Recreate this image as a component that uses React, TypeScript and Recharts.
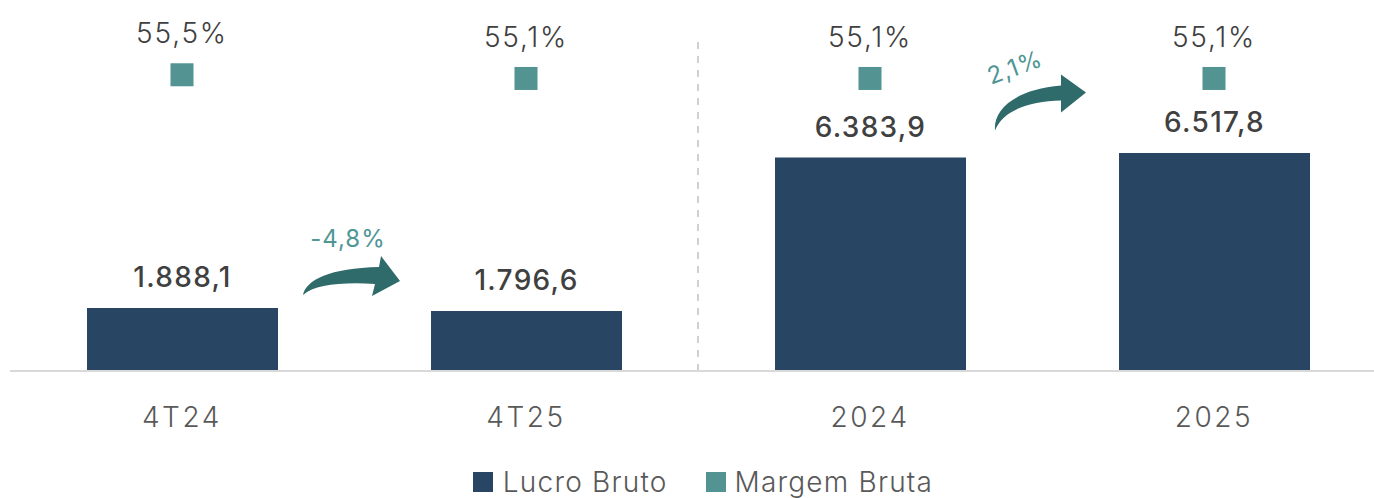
import React from 'react';
import {
  ComposedChart,
  Bar,
  Scatter,
  XAxis,
  YAxis,
  Legend,
  ReferenceLine,
  ReferenceDot,
  LabelList,
} from 'recharts';

const categories = ['4T24', '4T25', '2024', '2025'];
const lucroBruto = [1888.1, 1796.6, 6383.9, 6517.8];
const margemBruta = [55.5, 55.1, 55.1, 55.1];
const lucroLabels = ['1.888,1', '1.796,6', '6.383,9', '6.517,8'];
const margemLabels = ['55,5%', '55,1%', '55,1%', '55,1%'];
const variacoes = ['-4,8%', '2,1%'];

const data = categories.map((c, i) => ({
  categoria: c,
  lucro: lucroBruto[i],
  margem: margemBruta[i],
  lucroLabel: lucroLabels[i],
  margemLabel: margemLabels[i],
}));

// position of the boundary between category i and i+1 on a 0..(n-1) linear helper axis
const N = categories.length;
const boundary = (i: number) => ((i + 1) * (N - 1)) / N;

const FONT = 'Inter, "Open Sans", sans-serif';
const BAR_COLOR = '#284563';
const MARK_COLOR = '#539493';
const ARROW_COLOR = '#2f6b6a';
const ARROW_TEXT = '#4f9695';

const arrowPaths = [
  'M -51 -13 C -48 -28, -24 -40, 25 -41 L 27 -52 L 46 -27 L 18 -12 L 21 -24 C -14 -26, -39 -23, -51 -13 Z',
  'M -47 -27 C -49 -48, -27 -68, 19 -72 L 19 -83 L 44 -65 L 19 -45 L 19 -57 C -12 -56, -39 -48, -47 -27 Z',
];
const arrowLabelPos = [
  { dx: -6, dy: -61, rot: 0 },
  { dx: -27, dy: -82, rot: -20 },
];

const makeArrow = (idx: number) => (props: any) => {
  const { cx, cy } = props;
  const lp = arrowLabelPos[idx];
  return (
    <g>
      <path d={arrowPaths[idx]} transform={`translate(${cx},${cy})`} fill={ARROW_COLOR} />
      <text
        x={cx + lp.dx}
        y={cy + lp.dy}
        textAnchor="middle"
        fontFamily={FONT}
        fontSize={24}
        letterSpacing={1}
        fill={ARROW_TEXT}
        transform={lp.rot ? `rotate(${lp.rot},${cx + lp.dx},${cy + lp.dy - 8})` : undefined}
      >
        {variacoes[idx]}
      </text>
    </g>
  );
};

const BarLabel = (props: any) => {
  const { x, y, width, value } = props;
  return (
    <text
      x={x + width / 2}
      y={y - 21}
      textAnchor="middle"
      fontFamily={FONT}
      fontWeight={500}
      fontSize={28}
      letterSpacing={1.3}
      fill="#404040"
    >
      {value}
    </text>
  );
};

const MarginShape = (props: any) => {
  const { cx, cy, payload } = props;
  return (
    <g>
      <rect x={cx - 11.5} y={cy - 11.5} width={23} height={23} fill={MARK_COLOR} />
      <text
        x={cx}
        y={cy - 31.5}
        textAnchor="middle"
        fontFamily={FONT}
        fontWeight={300}
        fontSize={28}
        letterSpacing={1.8}
        fill="#404040"
      >
        {payload.margemLabel}
      </text>
    </g>
  );
};

const Tick = (props: any) => {
  const { x, y, payload } = props;
  return (
    <text
      x={x}
      y={y + 56}
      textAnchor="middle"
      fontFamily={FONT}
      fontWeight={300}
      fontSize={28}
      letterSpacing={2.6}
      fill="#595959"
    >
      {payload.value}
    </text>
  );
};

const LegendContent = () => (
  <div
    style={{
      display: 'flex',
      justifyContent: 'center',
      alignItems: 'center',
      paddingTop: 36,
      paddingLeft: 10,
      fontFamily: FONT,
      fontWeight: 300,
      fontSize: 28,
      lineHeight: '30px',
      letterSpacing: 1.2,
      color: '#595959',
    }}
  >
    <span style={{ display: 'inline-flex', alignItems: 'center', marginRight: 38 }}>
      <span style={{ width: 20, height: 20, background: BAR_COLOR, marginRight: 10, display: 'inline-block' }} />
      Lucro Bruto
    </span>
    <span style={{ display: 'inline-flex', alignItems: 'center' }}>
      <span style={{ width: 20, height: 20, background: MARK_COLOR, marginRight: 9, display: 'inline-block' }} />
      Margem Bruta
    </span>
  </div>
);

export default function App() {
  return (
    <div style={{ position: 'absolute', left: 0, top: 0, width: 1374, height: 498, overflow: 'hidden', background: '#fff' }}>
      <ComposedChart
        width={1388}
        height={498}
        data={data}
        margin={{ top: 35, right: 2, left: 10, bottom: 0 }}
      >
        <XAxis
          dataKey="categoria"
          axisLine={{ stroke: '#d9d9d9', strokeWidth: 2 }}
          tickLine={false}
          tickSize={0}
          tickMargin={0}
          height={60}
          tick={<Tick />}
          interval={0}
        />
        <XAxis xAxisId="n" type="number" domain={[0, N - 1]} hide allowDataOverflow />
        <YAxis yAxisId="left" hide domain={[0, 10050]} />
        <YAxis yAxisId="right" orientation="right" hide domain={[23.47, 59.8]} />
        <ReferenceLine
          x={boundary(1)}
          xAxisId="n"
          yAxisId="left"
          stroke="#d0d0d0"
          strokeWidth={2}
          strokeDasharray="7 7"
        />
        <Bar yAxisId="left" dataKey="lucro" fill={BAR_COLOR} barSize={191} isAnimationActive={false} legendType="square">
          <LabelList dataKey="lucroLabel" content={<BarLabel />} />
        </Bar>
        <Scatter
          yAxisId="right"
          dataKey="margem"
          fill={MARK_COLOR}
          shape={MarginShape}
          isAnimationActive={false}
        />
        <ReferenceDot
          xAxisId="n"
          yAxisId="left"
          x={boundary(0)}
          y={lucroBruto[0]}
          shape={makeArrow(0)}
        />
        <ReferenceDot
          xAxisId="n"
          yAxisId="left"
          x={boundary(2)}
          y={lucroBruto[2]}
          shape={makeArrow(1)}
        />
        <Legend verticalAlign="bottom" height={67} content={<LegendContent />} />
      </ComposedChart>
    </div>
  );
}
